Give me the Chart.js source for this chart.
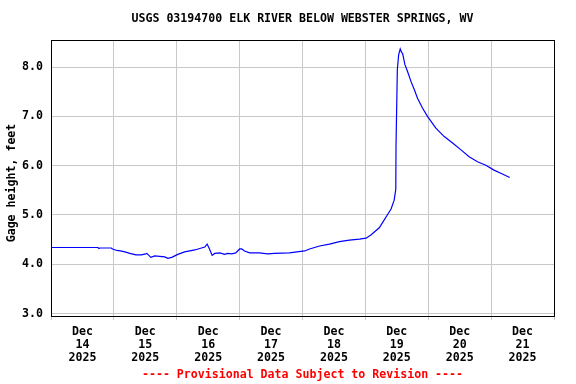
<!DOCTYPE html>
<html>
<head>
<meta charset="utf-8">
<script src="https://cdn.jsdelivr.net/npm/chart.js@4.4.1/dist/chart.umd.min.js"></script>
<style>
  html, body { margin: 0; padding: 0; background: #fff; }
  #wrap { width: 576px; height: 384px; }
</style>
</head>
<body>
<div id="wrap"><canvas id="stageChart" width="576" height="384"></canvas></div>
<script>
// Gage height readings, hours since Dec 14 2025 00:00
const hours = [0, 17.9, 18.3, 18.7, 23.0, 23.5, 25.1, 26.5, 28.2, 30.1, 32.4, 34.5, 36.2, 36.6, 38.1,
  39.6, 41.5, 43.4, 44.6, 46.1, 48.4, 51.0, 54.9, 56.8, 58.7, 59.6, 60.5, 61.5, 62.5, 64.4, 66.3,
  67.4, 69.0, 70.5, 72.0, 72.8, 73.9, 75.8, 79.6, 82.7, 85.3, 91.0, 96.8, 98.7, 102.5, 106.3, 110.1,
  113.9, 117.7, 120.3, 122.2, 125.3, 127.2, 128.6, 129.8, 131.0, 131.6, 131.7, 132.2, 132.7, 133.3,
  133.8, 134.2, 135.1, 136.1, 137.4, 138.7, 139.9, 141.8, 143.7, 146.9, 150.1, 153.3, 156.5, 159.6,
  162.8, 166.0, 169.1, 172.3, 175.1];
const stage = [4.34, 4.34, 4.32, 4.33, 4.33, 4.31, 4.28, 4.27, 4.25, 4.22, 4.19, 4.19, 4.21, 4.22, 4.14,
  4.17, 4.16, 4.15, 4.12, 4.14, 4.20, 4.25, 4.29, 4.32, 4.35, 4.41, 4.31, 4.18, 4.22, 4.23, 4.20,
  4.22, 4.21, 4.23, 4.31, 4.31, 4.27, 4.23, 4.23, 4.21, 4.22, 4.23, 4.27, 4.31, 4.37, 4.41, 4.46,
  4.49, 4.51, 4.53, 4.60, 4.74, 4.90, 5.02, 5.12, 5.30, 5.52, 6.42, 7.95, 8.25, 8.37,
  8.30, 8.28, 8.05, 7.91, 7.71, 7.54, 7.37, 7.17, 7.00, 6.76, 6.59, 6.46, 6.32, 6.18,
  6.08, 6.01, 5.91, 5.83, 5.76];

const dayLabels = ['14', '15', '16', '17', '18', '19', '20', '21'];
const yTicks = [3, 4, 5, 6, 7, 8];
const chartTitle = 'USGS 03194700 ELK RIVER BELOW WEBSTER SPRINGS, WV';
const yTitle = 'Gage height, feet';
const footerText = '---- Provisional Data Subject to Revision ----';

const monoFont = { family: "'DejaVu Sans Mono', monospace", size: 11.6, weight: 'bold', lineHeight: 1.1 };
const gridGray = '#c8c8c8';

// title, y title, footer and the box around the plot
const framePlugin = {
  id: 'frame',
  afterDraw(chart) {
    const { ctx, chartArea: a } = chart;
    ctx.save();
    ctx.strokeStyle = '#000';
    ctx.lineWidth = 1;
    ctx.strokeRect(a.left + 0.5, a.top + 0.5, a.right - a.left, a.bottom - a.top);
    ctx.font = 'bold 11.6px "DejaVu Sans Mono", monospace';
    ctx.textAlign = 'center';
    ctx.textBaseline = 'middle';
    const cx = (a.left + a.right) / 2;
    ctx.fillStyle = '#000';
    ctx.fillText(chartTitle, cx, 19);
    ctx.fillStyle = '#ff0000';
    ctx.fillText(footerText, cx, 375);
    // rotated axis title
    ctx.fillStyle = '#000';
    ctx.translate(12, 183);
    ctx.rotate(-Math.PI / 2);
    ctx.fillText(yTitle, 0, 0);
    ctx.restore();
  }
};

const ctx = document.getElementById('stageChart').getContext('2d');

const stageChart = new Chart(ctx, {
  type: 'line',
  data: {
    datasets: [{
      data: hours.map((h, i) => ({ x: h, y: stage[i] })),
      borderColor: '#0000ff',
      borderWidth: 1.2,
      pointRadius: 0,
      tension: 0,
      fill: false
    }]
  },
  options: {
    responsive: false,
    animation: false,
    layout: { padding: { top: 40, right: 22, bottom: 0, left: 0 } },
    plugins: {
      legend: { display: false },
      tooltip: { enabled: false }
    },
    scales: {
      x: {
        type: 'linear',
        min: 0,
        max: 192,
        afterBuildTicks(scale) {
          const t = [];
          for (let h = 0; h <= 192; h += 12) t.push({ value: h });
          scale.ticks = t;
        },
        afterFit(scale) { scale.height = 68; },
        grid: {
          color: c => (c.tick && c.tick.value % 24 === 0) ? gridGray : 'rgba(0,0,0,0)',
          tickLength: 4,
          drawTicks: true
        },
        border: { color: '#000' },
        ticks: {
          autoSkip: false,
          maxRotation: 0,
          padding: 6,
          color: '#000',
          font: monoFont,
          callback: v => (v % 24 === 12) ? ['Dec', dayLabels[(v - 12) / 24], '2025'] : ''
        }
      },
      y: {
        min: 2.95,
        max: 8.55,
        afterBuildTicks(scale) {
          scale.ticks = yTicks.map(v => ({ value: v }));
        },
        afterFit(scale) { scale.width = 51; },
        grid: { color: gridGray, drawTicks: false },
        border: { color: '#000' },
        ticks: {
          padding: 8,
          color: '#000',
          font: monoFont,
          callback: v => v.toFixed(1)
        }
      }
    }
  },
  plugins: [framePlugin]
});
</script>
</body>
</html>
